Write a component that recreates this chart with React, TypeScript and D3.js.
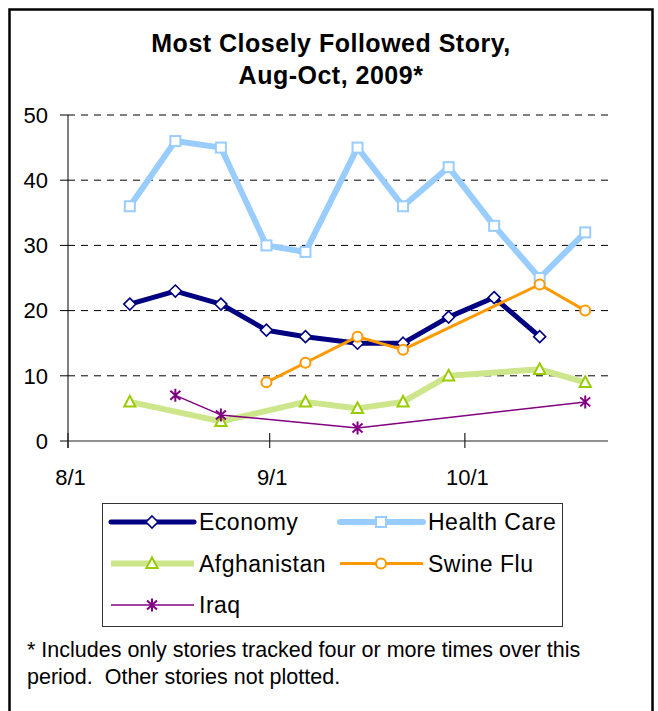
import * as d3 from "d3";
import { useEffect, useRef } from "react";

const width = 658;
const height = 711;

// survey weeks (Pew News Interest Index)
const surveyDates = [
  "2009-08-10",
  "2009-08-17",
  "2009-08-24",
  "2009-08-31",
  "2009-09-06",
  "2009-09-14",
  "2009-09-21",
  "2009-09-28",
  "2009-10-05",
  "2009-10-12",
  "2009-10-19",
];

const economy = [21, 23, 21, 17, 16, 15, 15, 19, 22, 16, null];
const healthCare = [36, 46, 45, 30, 29, 45, 36, 42, 33, 25, 32];
const afghanistan = [6, null, 3, null, 6, 5, 6, 10, null, 11, 9];
const swineFlu = [null, null, null, 9, 12, 16, 14, null, null, 24, 20];
const iraq = [null, 7, 4, null, null, 2, null, null, null, null, 6];

const yTicks = [0, 10, 20, 30, 40, 50];
const xTicks = ["2009-08-01", "2009-09-01", "2009-10-01"];
const xTickLabels = ["8/1", "9/1", "10/1"];

const titleLines = ["Most Closely Followed Story,", "Aug-Oct, 2009*"];
const footnoteLines = [
  "* Includes only stories tracked four or more times over this",
  "period.  Other stories not plotted.",
];

type Marker = "diamond" | "square" | "triangle" | "circle" | "star";

const series: {
  name: string;
  values: (number | null)[];
  color: string;
  markerColor: string;
  lineWidth: number;
  marker: Marker;
}[] = [
  { name: "Economy", values: economy, color: "#000080", markerColor: "#000080", lineWidth: 5, marker: "diamond" },
  { name: "Health Care", values: healthCare, color: "#99ccff", markerColor: "#99ccff", lineWidth: 6, marker: "square" },
  { name: "Afghanistan", values: afghanistan, color: "#cde68c", markerColor: "#99cc00", lineWidth: 6, marker: "triangle" },
  { name: "Swine Flu", values: swineFlu, color: "#ff9900", markerColor: "#ff9900", lineWidth: 3, marker: "circle" },
  { name: "Iraq", values: iraq, color: "#800080", markerColor: "#800080", lineWidth: 1.5, marker: "star" },
];

const parseDate = d3.timeParse("%Y-%m-%d");
const font = "'Liberation Sans', Arial, sans-serif";

function drawMarker(
  g: d3.Selection<SVGGElement, unknown, null, undefined>,
  type: Marker,
  color: string,
) {
  if (type === "diamond") {
    g.append("path")
      .attr("d", "M0,-6L6,0L0,6L-6,0Z")
      .attr("fill", "white")
      .attr("stroke", color)
      .attr("stroke-width", 1.6);
  } else if (type === "square") {
    g.append("rect")
      .attr("x", -5)
      .attr("y", -5)
      .attr("width", 10)
      .attr("height", 10)
      .attr("fill", "white")
      .attr("stroke", color)
      .attr("stroke-width", 2);
  } else if (type === "triangle") {
    g.append("path")
      .attr("d", "M0,-6L5.6,4.6L-5.6,4.6Z")
      .attr("fill", "white")
      .attr("stroke", color)
      .attr("stroke-width", 2);
  } else if (type === "circle") {
    g.append("circle")
      .attr("r", 5)
      .attr("fill", "white")
      .attr("stroke", color)
      .attr("stroke-width", 2);
  } else {
    g.append("path")
      .attr("d", "M0,-6.5V6.5M-5,-4.5L5,4.5M-5,4.5L5,-4.5")
      .attr("fill", "none")
      .attr("stroke", color)
      .attr("stroke-width", 2);
  }
}

export default function App() {
  const svgRef = useRef<SVGSVGElement>(null);

  useEffect(() => {
    if (!svgRef.current) return;
    const svg = d3.select(svgRef.current);
    svg.selectAll("*").remove();

    const plot = { left: 68, right: 608, top: 115, bottom: 441 };

    const xScale = d3
      .scaleTime()
      .domain([parseDate("2009-08-01")!, parseDate("2009-10-23")!])
      .range([plot.left, plot.right]);

    const yScale = d3
      .scaleLinear()
      .domain([0, 50])
      .range([plot.bottom, plot.top]);

    // points sit mid-day on the date axis
    const xOf = (s: string) => xScale(d3.timeHour.offset(parseDate(s)!, 12));

    // outer frame
    svg
      .append("rect")
      .attr("x", 9.5)
      .attr("y", 9.5)
      .attr("width", 643)
      .attr("height", 740)
      .attr("fill", "white")
      .attr("stroke", "black")
      .attr("stroke-width", 2.5);

    // title
    titleLines.forEach((t, i) => {
      svg
        .append("text")
        .attr("x", 331)
        .attr("y", 52 + i * 31.5)
        .attr("text-anchor", "middle")
        .style("font-family", font)
        .style("font-size", "25px")
        .style("font-weight", "bold")
        .style("letter-spacing", "0.5px")
        .text(t);
    });

    // grid lines
    svg
      .append("g")
      .selectAll("line")
      .data(yTicks.filter((d) => d > 0))
      .enter()
      .append("line")
      .attr("x1", plot.left)
      .attr("x2", plot.right)
      .attr("y1", (d) => yScale(d))
      .attr("y2", (d) => yScale(d))
      .attr("stroke", "black")
      .attr("stroke-width", 1)
      .attr("stroke-dasharray", "7,6");

    // y axis
    const yAxis = svg.append("g");
    yAxis
      .append("line")
      .attr("x1", plot.left)
      .attr("x2", plot.left)
      .attr("y1", plot.top)
      .attr("y2", plot.bottom + 7)
      .attr("stroke", "black");
    yTicks.forEach((t) => {
      yAxis
        .append("line")
        .attr("x1", plot.left - 8)
        .attr("x2", plot.left)
        .attr("y1", yScale(t))
        .attr("y2", yScale(t))
        .attr("stroke", "black");
      yAxis
        .append("text")
        .attr("x", 48)
        .attr("y", yScale(t))
        .attr("dy", "0.35em")
        .attr("text-anchor", "end")
        .style("font-family", font)
        .style("font-size", "22px")
        .text(t);
    });

    // x axis
    const xAxis = svg.append("g");
    xAxis
      .append("line")
      .attr("x1", plot.left)
      .attr("x2", plot.right)
      .attr("y1", plot.bottom)
      .attr("y2", plot.bottom)
      .attr("stroke", "#222")
      .attr("stroke-width", 1.2);
    xTicks.forEach((t, i) => {
      const x = xScale(parseDate(t)!);
      xAxis
        .append("line")
        .attr("x1", x)
        .attr("x2", x)
        .attr("y1", plot.bottom - 8)
        .attr("y2", plot.bottom + 7)
        .attr("stroke", "#222")
        .attr("stroke-width", 1.2);
      xAxis
        .append("text")
        .attr("x", x + 2.5)
        .attr("y", 485)
        .attr("text-anchor", "middle")
        .style("font-family", font)
        .style("font-size", "22px")
        .text(xTickLabels[i]);
    });

    // series
    series.forEach((s) => {
      const pts = surveyDates
        .map((d, i) => ({ date: d, value: s.values[i] }))
        .filter((p) => p.value !== null) as { date: string; value: number }[];

      const line = d3
        .line<{ date: string; value: number }>()
        .x((p) => xOf(p.date))
        .y((p) => yScale(p.value));

      svg
        .append("path")
        .datum(pts)
        .attr("d", line)
        .attr("fill", "none")
        .attr("stroke", s.color)
        .attr("stroke-width", s.lineWidth)
        .attr("stroke-linejoin", "round");

      pts.forEach((p) => {
        const m = svg
          .append("g")
          .attr("transform", `translate(${xOf(p.date)},${yScale(p.value)})`);
        drawMarker(m, s.marker, s.markerColor);
      });
    });

    // legend
    const legend = svg.append("g");
    legend
      .append("rect")
      .attr("x", 102.5)
      .attr("y", 503.5)
      .attr("width", 460)
      .attr("height", 123)
      .attr("fill", "white")
      .attr("stroke", "#333")
      .attr("stroke-width", 1);

    series.forEach((s, i) => {
      const col = i % 2;
      const row = Math.floor(i / 2);
      const x0 = col === 0 ? 111 : 340;
      const y0 = 522 + row * 41.5;
      const item = legend.append("g").attr("transform", `translate(${x0},${y0})`);
      item
        .append("line")
        .attr("x1", 0)
        .attr("x2", 83)
        .attr("y1", 0)
        .attr("y2", 0)
        .attr("stroke", s.color)
        .attr("stroke-width", s.lineWidth)
        .attr("stroke-linecap", s.lineWidth >= 5 && s.marker !== "triangle" ? "round" : "butt");
      const m = item.append("g").attr("transform", "translate(41,0)");
      drawMarker(m, s.marker, s.markerColor);
      item
        .append("text")
        .attr("x", 88)
        .attr("y", 0)
        .attr("dy", "0.36em")
        .style("font-family", font)
        .style("font-size", "23px")
        .style("letter-spacing", "0.5px")
        .text(s.name);
    });

    // footnote
    footnoteLines.forEach((t, i) => {
      svg
        .append("text")
        .attr("x", 27)
        .attr("y", 657 + i * 26.5)
        .style("font-family", font)
        .style("font-size", "21.5px")
        .style("white-space", "pre")
        .text(t);
    });
  }, []);

  return (
    <svg
      ref={svgRef}
      width={width}
      height={height}
      style={{ position: "absolute", left: 0, top: 0, display: "block" }}
    />
  );
}
